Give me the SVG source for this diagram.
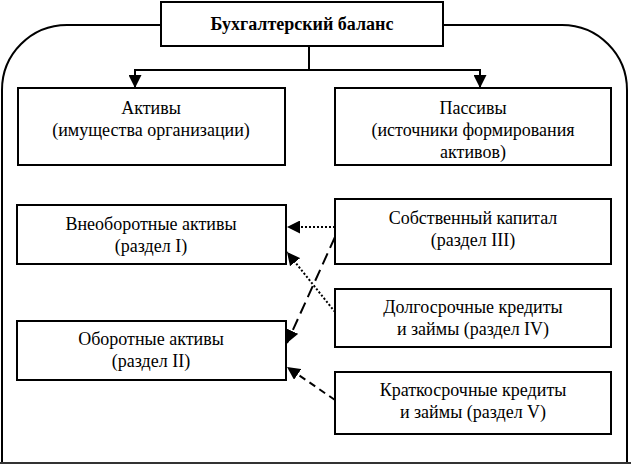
<svg xmlns="http://www.w3.org/2000/svg" width="631" height="464" viewBox="0 0 631 464">
<defs>
<style>
.box{fill:#fff;stroke:#000;stroke-width:2}
.t{font-family:"Liberation Serif","Times New Roman","DejaVu Serif",serif;font-size:18px;text-anchor:middle;fill:#000}
.b{font-weight:bold}
.ln{fill:none;stroke:#000;stroke-width:2}
</style>
<marker id="ah2" viewBox="0 0 10 10" refX="10" refY="5" markerWidth="13" markerHeight="13" markerUnits="userSpaceOnUse" orient="auto"><path d="M0,0 L10,5 L0,10 Z" fill="#000"/></marker>
</defs>
<rect width="631" height="464" fill="#fff"/>
<path class="ln" d="M2,464 V90 A65,65 0 0 1 67,25 H562 A65,65 0 0 1 627,90 V464"/>
<line x1="0" y1="463" x2="631" y2="463" stroke="#333" stroke-width="2"/>
<g id="connectors">
<path class="ln" d="M309,46 V70 M134,70 H481"/>
<line class="ln" x1="135" y1="70" x2="135" y2="88" marker-end="url(#ah2)"/>
<line class="ln" x1="480" y1="70" x2="480" y2="88" marker-end="url(#ah2)"/>
<line class="ln" x1="335" y1="227" x2="287" y2="227" stroke-dasharray="2,2" marker-end="url(#ah2)"/>
<line class="ln" x1="335" y1="312" x2="287" y2="252" stroke-dasharray="2,2" marker-end="url(#ah2)"/>
<line class="ln" x1="335" y1="237" x2="287" y2="343" stroke-dasharray="12,6" marker-end="url(#ah2)"/>
<line class="ln" x1="335" y1="400" x2="287" y2="367" stroke-dasharray="7,5" marker-end="url(#ah2)"/>
</g>
<g id="balance"><rect class="box" x="161" y="2" width="282" height="44"/><text class="t b" x="302" y="30">Бухгалтерский баланс</text></g>
<g id="aktivy"><rect class="box" x="18" y="88" width="267" height="77"/><text class="t" x="151" y="114">Активы</text><text class="t" x="151" y="136">(имущества организации)</text></g>
<g id="passivy"><rect class="box" x="335" y="88" width="276" height="77"/><text class="t" x="473" y="114">Пассивы</text><text class="t" x="473" y="136">(источники формирования</text><text class="t" x="473" y="158">активов)</text></g>
<g id="vneob"><rect class="box" x="17" y="205" width="269" height="59"/><text class="t" x="151" y="230">Внеоборотные активы</text><text class="t" x="151" y="252">(раздел I)</text></g>
<g id="oborot"><rect class="box" x="17" y="321" width="269" height="59"/><text class="t" x="151" y="345">Оборотные активы</text><text class="t" x="151" y="367">(раздел II)</text></g>
<g id="sobst"><rect class="box" x="335" y="199" width="276" height="65"/><text class="t" x="473" y="224">Собственный капитал</text><text class="t" x="473" y="246">(раздел III)</text></g>
<g id="dolg"><rect class="box" x="335" y="289" width="276" height="58"/><text class="t" x="473" y="313">Долгосрочные кредиты</text><text class="t" x="473" y="335">и займы (раздел IV)</text></g>
<g id="krat"><rect class="box" x="335" y="372" width="276" height="62"/><text class="t" x="473" y="396">Краткосрочные кредиты</text><text class="t" x="473" y="418">и займы (раздел V)</text></g>
</svg>
